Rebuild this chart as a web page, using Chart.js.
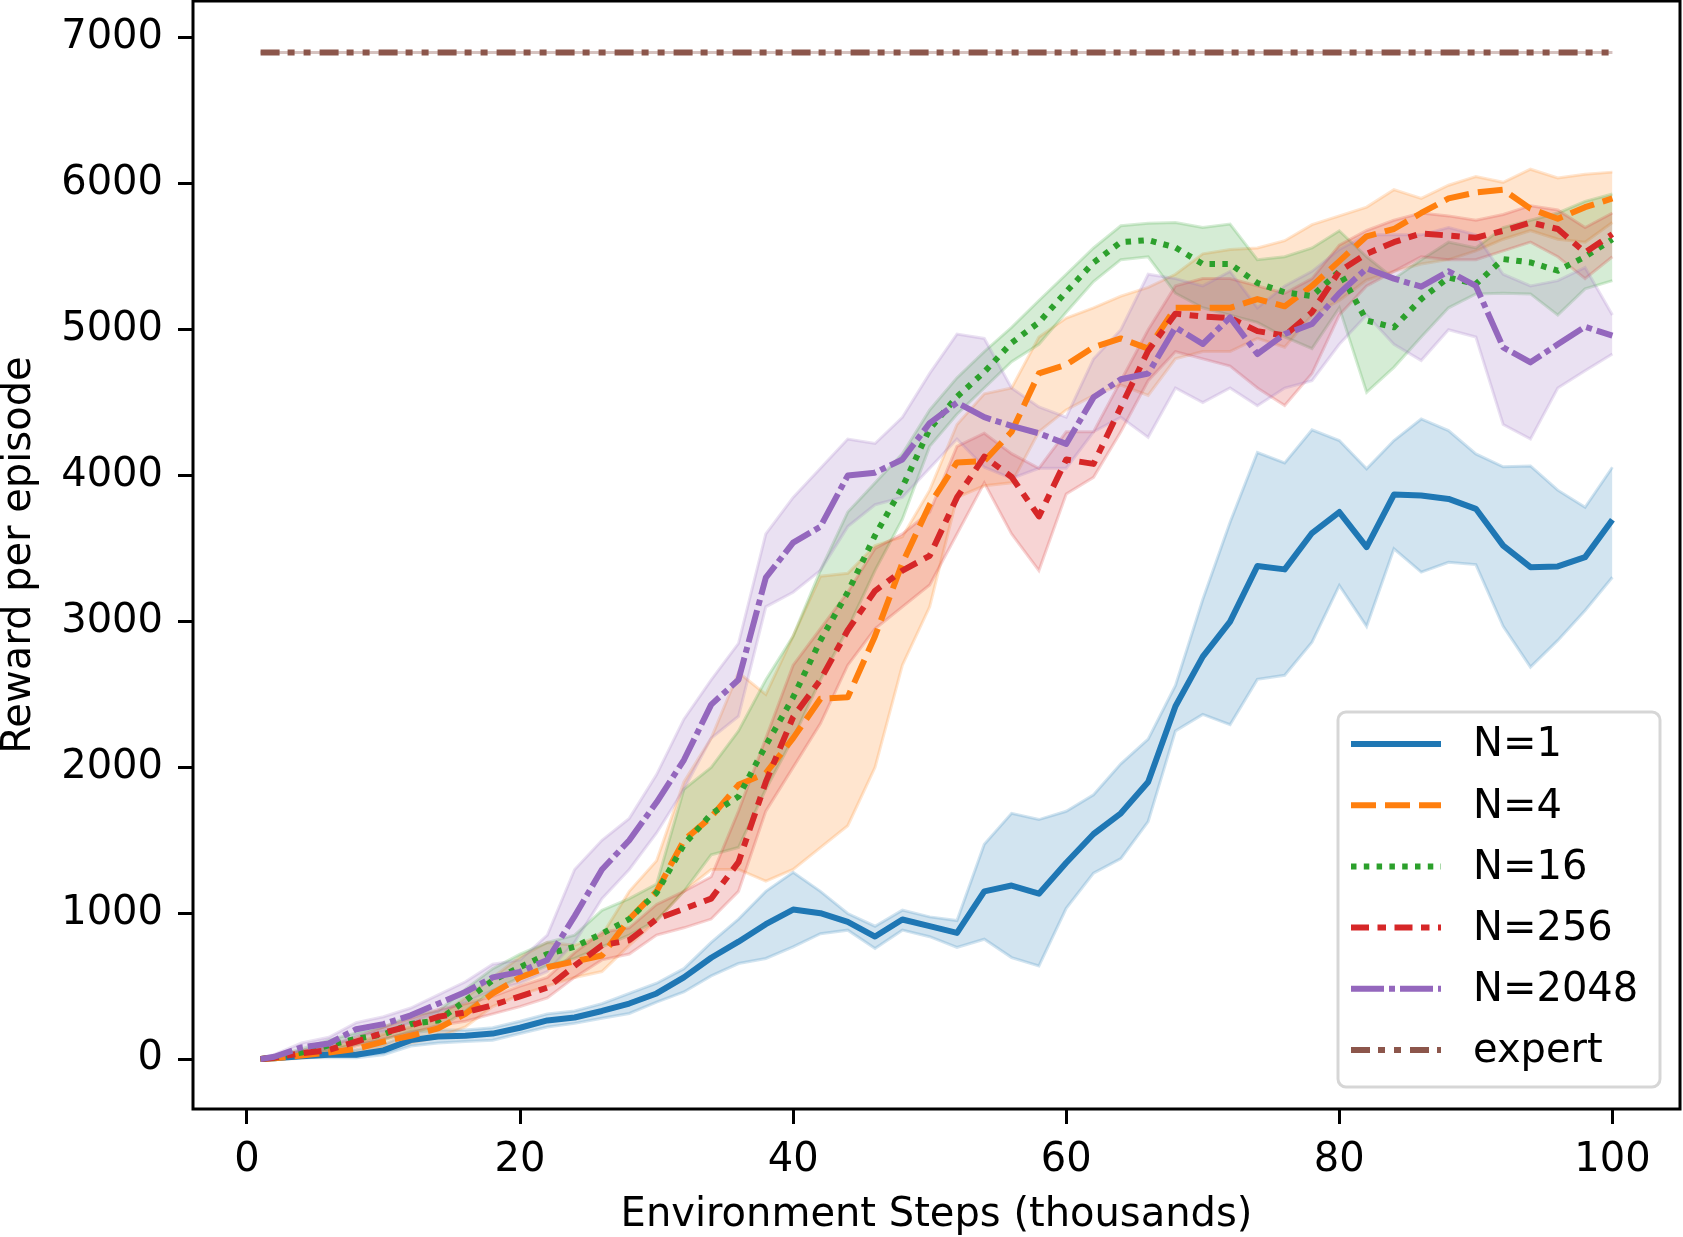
<!DOCTYPE html>
<html>
<head>
<meta charset="utf-8">
<script src="https://cdn.jsdelivr.net/npm/chart.js@4.4.1/dist/chart.umd.min.js"></script>
<style>
  html, body { margin: 0; padding: 0; background: #fff; }
  canvas { display: block; }
</style>
</head>
<body>
<canvas id="myChart" width="1683" height="1237"></canvas>
<script>
// x positions (thousands of environment steps)
const xs = [1, 2, 4, 6, 8, 10, 12, 14, 16, 18, 20, 22, 24, 26, 28, 30, 32, 34, 36, 38, 40, 42, 44, 46, 48, 50,
  52, 54, 56, 58, 60, 62, 64, 66, 68, 70, 72, 74, 76, 78, 80, 82, 84, 86, 88, 90, 92, 94, 96, 98, 100];

// N=1
const n1Mean = [0, 5, 20, 30, 30, 60, 130, 155, 160, 175, 215, 265, 285, 330, 381, 450, 560, 695, 805, 925, 1025, 1000, 941, 840, 957, 911,
  865, 1150, 1190, 1134, 1346, 1543, 1685, 1900, 2419, 2759, 2999, 3380, 3357, 3606, 3750, 3509, 3870, 3863, 3840, 3772, 3520, 3372, 3377, 3441, 3697];
const n1Low = [-5, 0, 10, 10, 10, 30, 90, 110, 120, 130, 175, 220, 245, 280, 313, 390, 460, 570, 655, 690, 770, 860, 884, 758, 884, 839,
  766, 822, 696, 639, 1034, 1275, 1374, 1628, 2250, 2363, 2292, 2603, 2631, 2858, 3247, 2966, 3498, 3338, 3406, 3390, 2967, 2687, 2870, 3075, 3303];
const n1High = [10, 15, 45, 60, 65, 100, 180, 200, 200, 215, 260, 310, 330, 380, 450, 520, 620, 800, 960, 1150, 1280, 1150, 998, 911, 1021, 975,
  950, 1473, 1685, 1642, 1699, 1812, 2024, 2193, 2561, 3150, 3680, 4158, 4087, 4313, 4240, 4046, 4240, 4388, 4308, 4148, 4060, 4066, 3900, 3783, 4057];

// N=4
const n4Mean = [0, 5, 25, 45, 70, 120, 160, 210, 310, 450, 560, 630, 670, 710, 960, 1150, 1500, 1660, 1880, 1960, 2200, 2470, 2480, 2900, 3400, 3800,
  4090, 4100, 4300, 4700, 4760, 4880, 4940, 4870, 5150, 5150, 5150, 5210, 5160, 5300, 5470, 5640, 5690, 5800, 5900, 5940, 5960, 5830, 5760, 5840, 5900];
const n4Low = [-10, -5, 5, 20, 40, 80, 110, 150, 220, 360, 440, 500, 560, 600, 780, 950, 1150, 1300, 1300, 1220, 1300, 1450, 1600, 2000, 2700, 3100,
  3850, 3930, 3950, 4300, 4450, 4550, 4620, 4550, 4800, 4850, 4850, 4940, 4880, 5100, 5200, 5340, 5400, 5450, 5480, 5540, 5620, 5680, 5620, 5600, 5735];
const n4High = [10, 20, 50, 80, 110, 170, 220, 290, 420, 560, 700, 800, 780, 850, 1150, 1360, 1900, 2200, 2650, 2500, 2900, 3310, 3330, 3520, 3580, 3900,
  4350, 4560, 4600, 4950, 5080, 5150, 5230, 5290, 5380, 5520, 5550, 5560, 5610, 5720, 5780, 5840, 5960, 5900, 5990, 6050, 6010, 6100, 6040, 6066, 6080];

// N=16
const n16Mean = [0, 10, 45, 95, 140, 170, 240, 265, 400, 540, 630, 720, 770, 860, 960, 1140, 1470, 1680, 1800, 2150, 2480, 2870, 3200, 3590, 3920, 4320,
  4540, 4710, 4910, 5050, 5260, 5460, 5600, 5614, 5563, 5450, 5450, 5320, 5256, 5230, 5400, 5062, 5016, 5210, 5358, 5313, 5484, 5461, 5404, 5500, 5620];
const n16Low = [-5, 0, 25, 60, 100, 130, 190, 210, 330, 470, 560, 640, 690, 770, 850, 950, 1150, 1400, 1450, 1850, 2200, 2600, 2950, 3350, 3700, 4200,
  4420, 4600, 4780, 4900, 5120, 5330, 5480, 5500, 5250, 5150, 5100, 5050, 4950, 4870, 5150, 4571, 4742, 4950, 5150, 5245, 5250, 5245, 5100, 5280, 5336];
const n16High = [10, 20, 70, 130, 180, 220, 300, 330, 480, 620, 720, 800, 850, 1020, 1100, 1200, 1850, 2000, 2250, 2600, 2900, 3350, 3750, 3950, 4150, 4450,
  4670, 4850, 5016, 5200, 5380, 5560, 5712, 5730, 5735, 5700, 5724, 5480, 5500, 5560, 5678, 5500, 5350, 5480, 5600, 5560, 5700, 5750, 5800, 5880, 5930];

// N=256
const n256Mean = [0, 10, 40, 62, 120, 180, 230, 290, 320, 370, 430, 490, 640, 780, 815, 960, 1030, 1100, 1350, 1900, 2345, 2600, 2940, 3210, 3349, 3450,
  3850, 4130, 3990, 3720, 4110, 4080, 4470, 4856, 5110, 5090, 5080, 4990, 4960, 5120, 5400, 5520, 5600, 5660, 5645, 5630, 5678, 5735, 5690, 5530, 5655];
const n256Low = [-10, 0, 20, 40, 90, 140, 180, 230, 260, 310, 360, 420, 560, 680, 720, 850, 900, 960, 1150, 1700, 2000, 2300, 2700, 2950, 3100, 3250,
  3600, 3950, 3600, 3349, 3874, 3988, 4300, 4650, 4850, 4800, 4750, 4600, 4480, 4700, 5100, 5300, 5400, 5500, 5480, 5480, 5540, 5600, 5500, 5350, 5500];
const n256High = [10, 20, 60, 90, 150, 220, 280, 340, 380, 430, 500, 560, 730, 870, 900, 1060, 1150, 1250, 1700, 2200, 2700, 2950, 3200, 3500, 3600, 3750,
  4200, 4290, 4150, 4050, 4300, 4300, 4650, 5000, 5300, 5350, 5350, 5300, 5250, 5350, 5580, 5680, 5750, 5800, 5780, 5750, 5790, 5850, 5820, 5700, 5800];

// N=2048
const n2048Mean = [0, 16, 80, 107, 205, 240, 300, 380, 460, 560, 598, 680, 980, 1300, 1500, 1760, 2050, 2430, 2600, 3300, 3540, 3650, 4000, 4020, 4110, 4360,
  4500, 4400, 4340, 4290, 4217, 4536, 4660, 4700, 5016, 4902, 5084, 4833, 4970, 5039, 5250, 5420, 5350, 5295, 5400, 5300, 4879, 4776, 4900, 5020, 4959];
const n2048Low = [-10, 5, 55, 70, 160, 190, 250, 320, 390, 470, 520, 600, 800, 1100, 1300, 1550, 1850, 2200, 2350, 3100, 3200, 3350, 3650, 3800, 3850, 4050,
  4250, 4057, 3980, 4050, 4050, 4300, 4400, 4262, 4600, 4500, 4600, 4479, 4600, 4650, 4900, 5100, 4900, 4788, 5000, 4950, 4350, 4250, 4600, 4719, 4833];
const n2048High = [10, 30, 110, 150, 250, 290, 350, 440, 530, 650, 680, 850, 1300, 1500, 1650, 1950, 2330, 2600, 2850, 3600, 3850, 4050, 4250, 4220, 4400, 4700,
  4970, 4940, 4600, 4470, 4400, 4800, 5000, 5380, 5350, 5300, 5400, 5150, 5300, 5400, 5550, 5650, 5650, 5650, 5700, 5650, 5380, 5300, 5336, 5427, 5100];

// expert reference level
const expertValue = 6900;

const xTicks = [0, 20, 40, 60, 80, 100];
const yTicks = [0, 1000, 2000, 3000, 4000, 5000, 6000, 7000];

const expertLine = xs.map(() => expertValue);

const series = [
  { label: 'N=1', rgb: '31,119,180', mean: n1Mean, low: n1Low, high: n1High, dash: [] },
  { label: 'N=4', rgb: '255,127,14', mean: n4Mean, low: n4Low, high: n4High, dash: [25, 9] },
  { label: 'N=16', rgb: '44,160,44', mean: n16Mean, low: n16Low, high: n16High, dash: [5.5, 7.3] },
  { label: 'N=256', rgb: '214,39,40', mean: n256Mean, low: n256Low, high: n256High, dash: [18, 8.5, 8.5, 8.5] },
  { label: 'N=2048', rgb: '148,103,189', mean: n2048Mean, low: n2048Low, high: n2048High, dash: [33, 5, 6, 5] },
  { label: 'expert', rgb: '140,86,75', mean: expertLine, low: expertLine, high: expertLine, dash: [19, 8, 7, 9, 7, 9] }
];

const toPts = arr => xs.map((x, i) => ({ x: x, y: arr[i] }));

const datasets = [];
series.forEach((s, i) => {
  const band = 'rgba(' + s.rgb + ',0.2)';
  datasets.push({ data: toPts(s.low), borderColor: band, borderWidth: 3, fill: false, order: 20 - i });
  datasets.push({ data: toPts(s.high), borderColor: band, backgroundColor: band, borderWidth: 3, fill: '-1', order: 20 - i });
});
series.forEach((s, i) => {
  datasets.push({
    label: s.label, isMain: true, data: toPts(s.mean),
    borderColor: 'rgb(' + s.rgb + ')', borderWidth: 6, borderDash: s.dash,
    borderCapStyle: 'butt', borderJoinStyle: 'round', fill: false, order: 10 - i
  });
});

// black frame round the plot area, like matplotlib spines
const spines = {
  id: 'spines',
  afterDatasetsDraw(chart) {
    const a = chart.chartArea, ctx = chart.ctx;
    ctx.save();
    ctx.strokeStyle = '#000';
    ctx.lineWidth = 3;
    ctx.strokeRect(a.left, a.top, a.right - a.left, a.bottom - a.top);
    ctx.restore();
  }
};

// legend box in the lower right corner
const legendBox = {
  id: 'legendBox',
  afterDraw(chart) {
    const ctx = chart.ctx, a = chart.chartArea;
    const mains = chart.data.datasets.filter(d => d.isMain);
    const w = 322, h = 375;
    const left = a.right - 20 - w, top = a.bottom - 22 - h;
    ctx.save();
    ctx.fillStyle = 'rgba(255,255,255,0.8)';
    ctx.strokeStyle = 'rgba(204,204,204,0.8)';
    ctx.lineWidth = 3;
    ctx.beginPath();
    ctx.roundRect(left, top, w, h, 8);
    ctx.fill();
    ctx.stroke();
    ctx.font = '40px "DejaVu Sans"';
    ctx.textBaseline = 'middle';
    mains.forEach((d, i) => {
      const y = top + 32 + i * 61.2;
      ctx.strokeStyle = d.borderColor;
      ctx.lineWidth = d.borderWidth;
      ctx.lineCap = 'butt';
      ctx.setLineDash(d.borderDash);
      ctx.beginPath();
      ctx.moveTo(left + 13, y);
      ctx.lineTo(left + 103, y);
      ctx.stroke();
      ctx.setLineDash([]);
      ctx.fillStyle = '#000';
      ctx.fillText(d.label, left + 135, y + 2);
    });
    ctx.restore();
  }
};

Chart.defaults.font.family = '"DejaVu Sans", sans-serif';
Chart.defaults.font.size = 40;
Chart.defaults.color = '#000';

const tickGrid = { display: true, drawOnChartArea: false, drawTicks: true, tickLength: 15, tickWidth: 3, tickColor: '#000' };

// drop the half-label padding Chart.js reserves at the axis ends
const noEndPadding = s => { s.paddingTop = 0; s.paddingBottom = 0; s.paddingLeft = 0; s.paddingRight = 0; };

const ctx = document.getElementById('myChart').getContext('2d');
const myChart = new Chart(ctx, {
  type: 'line',
  data: { datasets: datasets },
  options: {
    responsive: false,
    animation: false,
    devicePixelRatio: 1,
    layout: { padding: { top: 1, right: 3, bottom: 0, left: 0 } },
    elements: { point: { radius: 0 }, line: { tension: 0 } },
    plugins: { legend: { display: false }, tooltip: { enabled: false } },
    scales: {
      x: {
        type: 'linear', min: -3.95, max: 104.95,
        afterBuildTicks: s => { s.ticks = xTicks.map(v => ({ value: v })); },
        afterFit: s => { s.height = 128; noEndPadding(s); },
        grid: tickGrid,
        border: { display: false },
        ticks: { padding: 13, maxRotation: 0, autoSkip: false, callback: v => String(v) },
        title: { display: true, text: 'Environment Steps (thousands)', font: { size: 40, lineHeight: 1.2 }, padding: { top: 0, bottom: -3 } }
      },
      y: {
        type: 'linear', min: -342, max: 7253,
        afterBuildTicks: s => { s.ticks = yTicks.map(v => ({ value: v })); },
        afterFit: s => { s.width = 193; noEndPadding(s); },
        grid: tickGrid,
        border: { display: false },
        ticks: { padding: 15, autoSkip: false, callback: v => String(v) },
        title: { display: true, text: 'Reward per episode', font: { size: 40, lineHeight: 1.0 }, padding: 0 }
      }
    }
  },
  plugins: [spines, legendBox]
});
</script>
</body>
</html>
